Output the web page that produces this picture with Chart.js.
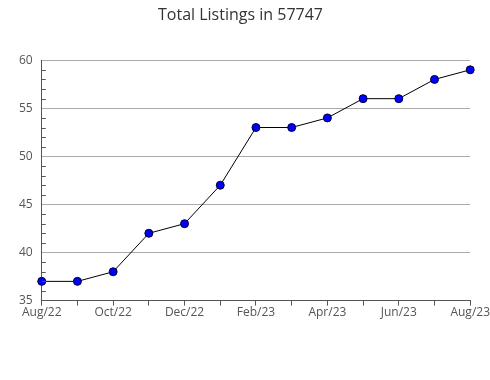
<!DOCTYPE html>
<html><head><meta charset="utf-8">
<script src="https://cdn.jsdelivr.net/npm/chart.js@4/dist/chart.umd.min.js"></script>
<style>html,body{margin:0;padding:0;background:#fff}#wrap{width:490px;height:380px}</style>
</head><body><div id="wrap"><canvas id="c" width="490" height="380"></canvas></div>
<script>
const categories = ["Aug/22","Sep/22","Oct/22","Nov/22","Dec/22","Jan/23","Feb/23","Mar/23","Apr/23","May/23","Jun/23","Jul/23","Aug/23"];
const listings = [37,37,38,42,43,47,53,53,54,56,56,58,59];
const yMin = 35, yMax = 60, yMajor = 5;

const minorTicks = {
  id:'minorTicks',
  afterDatasetsDraw(chart){
    const s = chart.scales.y, ctx = chart.ctx;
    ctx.save(); ctx.strokeStyle='#555'; ctx.lineWidth=1;
    for(let v=yMin; v<=yMax; v++){
      if(v%yMajor===0) continue;
      const y=Math.round(s.getPixelForValue(v))+0.5;
      ctx.beginPath(); ctx.moveTo(s.right,y); ctx.lineTo(s.right+4,y); ctx.stroke();
    }
    ctx.restore();
  }
};

new Chart(document.getElementById('c'),{
  type:'line',
  data:{labels:categories,datasets:[{data:listings,borderColor:'#000',borderWidth:1,
    pointBackgroundColor:'#0000ff',pointBorderColor:'#000033',pointBorderWidth:1,pointRadius:4,pointStyle:'circle',tension:0}]},
  options:{responsive:false,animation:false,
    layout:{padding:{left:10,right:19,top:0,bottom:60}},
    plugins:{legend:{display:false},tooltip:{enabled:false},
      title:{display:true,text:'Total Listings in 57747',color:'#333',font:{family:'"Open Sans"',size:16,weight:'normal'},padding:{top:6,bottom:35}}},
    scales:{
      x:{offset:false,grid:{drawOnChartArea:false,drawTicks:true,tickLength:5,tickColor:'#555'},
        border:{color:'#555'},
        ticks:{autoSkip:false,maxRotation:0,color:'#555',padding:0,font:{family:'"Open Sans"',size:12},
          callback:(v,i)=>i%2===0?categories[i]:''}},
      y:{min:yMin,max:yMax,border:{color:'#555'},
        grid:{color:c=>c.tick.value%yMajor===0?'#aaa':'transparent',drawTicks:false},
        ticks:{stepSize:1,autoSkip:false,color:'#555',padding:9,font:{family:'"Open Sans"',size:12},
          callback:v=>v%yMajor===0?v:''}}
    }},
  plugins:[minorTicks]
});
</script></body></html>
